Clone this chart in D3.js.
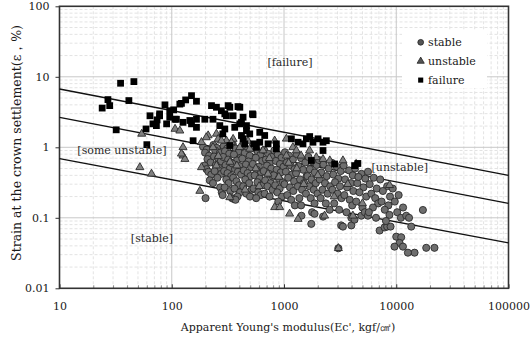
<!DOCTYPE html>
<html>
<head>
<meta charset="utf-8">
<script src="https://cdn.jsdelivr.net/npm/d3@7"></script>
<style>
  html, body { margin: 0; padding: 0; background: #fff; }
  svg { display: block; }
</style>
</head>
<body>
<svg id="chart" width="531" height="339"></svg>
<script>
// Axis ticks
const xTicks = [10, 100, 1000, 10000, 100000];
const xTickLabels = ["10", "100", "1000", "10000", "100000"];
const yTicks = [0.01, 0.1, 1, 10, 100];
const yTickLabels = ["0.01", "0.1", "1", "10", "100"];

const seriesNames = ["stable", "unstable", "failure"];
const xTitle = "Apparent Young's modulus(Ec', kgf/㎠)";
const yTitle = "Strain at the crown settlement(ε，%)";
const zoneLabels = ["[failure]", "[some unstable]", "[unstable]", "[stable]"];

// [apparent Young's modulus Ec' (kgf/cm2), crown settlement strain (%)]
const stable = [
  [190,1.02],[205,0.93],[198,0.84],[215,0.76],[208,0.68],[222,0.61],[196,0.55],[204,0.49],[212,0.45],[225,0.41],[218,0.34],[200,0.19],
  [235,1.08],[252,0.98],[244,0.9],[268,0.83],[238,0.74],[259,0.7],[273,0.63],[247,0.56],[262,0.51],[241,0.46],[276,0.42],[255,0.37],[233,0.31],[270,0.27],[279,0.23],[284,0.21],
  [290,1.04],[312,0.96],[298,0.88],[325,0.81],[287,0.73],[318,0.67],[335,0.61],[302,0.56],[329,0.5],[293,0.46],[314,0.43],[338,0.39],[306,0.35],[321,0.31],[296,0.27],[332,0.24],[344,0.19],[357,0.185],
  [350,1.1],[372,0.96],[395,0.86],[358,0.79],[410,0.71],[381,0.65],[346,0.59],[402,0.54],[366,0.49],[389,0.45],[415,0.41],[353,0.37],[377,0.33],[398,0.29],[362,0.26],[406,0.23],[385,0.2],[370,0.18],
  [430,1.02],[468,0.91],[447,0.83],[495,0.76],[425,0.69],[482,0.63],[458,0.57],[510,0.52],[438,0.47],[474,0.43],[502,0.39],[452,0.35],[489,0.31],[433,0.28],[515,0.25],[462,0.22],[498,0.2],
  [540,0.96],[585,0.86],[615,0.78],[560,0.71],[640,0.64],[528,0.58],[598,0.53],[572,0.48],[625,0.44],[548,0.4],[606,0.36],[580,0.32],[645,0.29],[535,0.26],[590,0.23],[620,0.21],[565,0.19],
  [665,0.91],[720,0.81],[780,0.73],[690,0.67],[750,0.61],[705,0.55],[770,0.5],[660,0.46],[735,0.42],[795,0.38],[680,0.34],[760,0.31],[712,0.28],[790,0.25],[672,0.22],[745,0.2],
  [820,0.9],[880,0.79],[950,0.71],[845,0.64],[920,0.58],[990,0.53],[860,0.48],[935,0.44],[810,0.4],[900,0.36],[975,0.32],[835,0.29],[915,0.26],[870,0.23],[960,0.2],[890,0.17],
  [1020,0.85],[1110,0.76],[1200,0.67],[1060,0.61],[1150,0.55],[1240,0.49],[1040,0.45],[1180,0.41],[1090,0.37],[1230,0.33],[1010,0.3],[1130,0.27],[1210,0.24],[1070,0.21],[1160,0.18],[1250,0.15],
  [1300,0.8],[1420,0.7],[1550,0.61],[1350,0.54],[1480,0.48],[1280,0.43],[1590,0.39],[1390,0.35],[1510,0.31],[1330,0.28],[1450,0.25],[1570,0.22],[1370,0.19],[1420,0.15],[1430,0.107],
  [1650,0.73],[1800,0.63],[1950,0.56],[1700,0.49],[1880,0.44],[1620,0.39],[1760,0.35],[1920,0.31],[1680,0.28],[1840,0.25],[1990,0.22],[1730,0.19],[1870,0.16],[1780,0.12],[1870,0.114],[1750,0.082],
  [2050,0.66],[2250,0.57],[2500,0.5],[2150,0.44],[2400,0.39],[2080,0.35],[2320,0.31],[2580,0.28],[2200,0.25],[2450,0.22],[2120,0.19],[2360,0.16],[2230,0.104],[2550,0.13],
  [2680,0.6],[2950,0.53],[3200,0.46],[2750,0.41],[3050,0.36],[2850,0.32],[3150,0.28],[2700,0.25],[3000,0.22],[3250,0.19],[2800,0.16],[3100,0.13],[3230,0.078],[3050,0.037],
  [3400,0.55],[3800,0.47],[4100,0.4],[3500,0.35],[3950,0.31],[3650,0.27],[4150,0.24],[3450,0.21],[3850,0.18],[4050,0.15],[3600,0.12],[3980,0.1],[3980,0.078],[3350,0.075],
  [4300,0.5],[4900,0.42],[5300,0.36],[4500,0.31],[5100,0.27],[4700,0.23],[5400,0.2],[4400,0.17],[4250,0.094],[4886,0.107],[5000,0.14],[5250,0.12],[4600,0.38],
  [5600,0.45],[6300,0.37],[5800,0.3],[6700,0.26],[6000,0.22],[6500,0.19],[5590,0.107],[6900,0.16],[6200,0.14],[5700,0.12],[6600,0.1],
  [7200,0.35],[8300,0.28],[7600,0.24],[8800,0.2],[7400,0.17],[8500,0.15],[7900,0.13],[8700,0.11],[7110,0.066],[7870,0.073],[8300,0.075],[8900,0.075],[8100,0.09],
  [9300,0.26],[10500,0.21],[9700,0.17],[11500,0.14],[10200,0.12],[11000,0.1],[10000,0.054],[11070,0.053],[10700,0.044],[11470,0.039],[9650,0.039],[12270,0.107],
  [13600,0.075],[17270,0.129],[18500,0.0375],[21900,0.0375],[14560,0.032],[12700,0.032],[13000,0.1]
];

const unstable = [
  [54,1.55],[107,1.82],[118,1.72],[126,0.76],[131,0.68],[52,0.52],[66,0.42],[122,0.81],[178,0.24],[126,1.0],
  [211,1.47],[250,1.55],[184,1.18],[307,1.24],[203,1.38],[233,1.0],[259,1.31],[352,1.31],[418,1.06],[478,1.23],
  [565,1.0],[277,1.24],[340,1.18],[404,1.0],[495,0.95],[650,0.9],[826,1.24],[1050,1.32],[1200,1.0],[1288,0.9],
  [1420,0.76],[1690,0.9],[1940,0.72],[2225,0.68],[2560,0.65],[3350,0.65],[4390,0.58],[1050,0.76],[8710,0.29],
  [184,0.52],[250,0.55],[329,0.195],[826,0.141],[916,0.141],[1122,0.114],[1334,0.096],[2300,0.107],[4110,0.107],
  [260,0.75],[330,0.62],[380,0.55],[560,0.5],[720,0.42],[900,0.38],[1500,0.3],[600,0.28],[450,0.25],[2800,0.2],
  [5000,0.16],[1300,0.5],[3700,0.3],[2000,0.4],[3050,0.037],[740,0.7],[1100,0.6]
];

const failure = [
  [24,3.6],[27,4.75],[28,3.9],[35,8.1],[46,8.55],[41.5,4.6],[32,1.77],[59,1.82],[60,1.09],[87,4.0],
  [68,2.15],[74,2.45],[78,2.8],[90,2.15],[96,2.67],[104,3.4],[107,2.5],[118,4.1],[133,4.7],[150,5.4],
  [166,4.5],[166,2.5],[166,1.92],[155,1.24],[145,2.4],[226,3.9],[250,3.7],[277,3.3],[329,3.7],[404,3.7],
  [307,2.8],[352,2.8],[418,2.26],[463,2.03],[524,2.98],[297,1.82],[418,1.47],[537,1.12],[329,1.06],
  [122,4.2],[318,3.9],[389,3.78],[297,2.98],[432,2.67],[530,2.9],[64,2.8],[78,2.98],[96,3.3],[110,2.5],[126,2.26],
  [73,2.03],[150,2.15],[197,2.5],[233,2.5],[268,2.03],[364,1.92],[404,2.15],[463,1.72],[608,1.63],
  [673,1.47],[608,1.18],[495,1.55],[432,1.32],[285,1.55],[447,1.12],[568,1.0],[721,1.12],[855,1.12],[1164,1.32],
  [1334,1.18],[1582,1.32],[1812,1.18],[2010,1.32],[2225,1.18],[2383,1.24],[1476,1.12],[2225,0.9],[1753,0.65],[2825,0.58],
  [4550,0.59],[4255,0.55],[855,0.95],[1694,1.42]
];

// Boundary lines between the stability zones (end points at both x-limits)
const upperBoundary = [[10, 6.7], [100000, 0.40]];
const middleBoundary = [[10, 2.66], [100000, 0.16]];
const lowerBoundary = [[10, 0.69], [100000, 0.044]];

const svg = d3.select("#chart");
const plotL = 59.5, plotR = 508.5, plotT = 6.3, plotB = 288.3;
const x = d3.scaleLog().domain([10, 100000]).range([plotL, plotR]);
const y = d3.scaleLog().domain([0.01, 100]).range([plotB, plotT]);

const font = "'DejaVu Serif', 'Liberation Serif', serif";
const ink = "#1a1a1a";

// Minor (dashed) grid
const minorX = [], minorY = [];
for (let d = 10; d < 100000; d *= 10) for (let k = 2; k <= 9; k++) minorX.push(d * k);
for (let d = 0.01; d < 100; d *= 10) for (let k = 2; k <= 9; k++) minorY.push(+(d * k).toPrecision(3));

const grid = svg.append("g");
grid.selectAll(".mx").data(minorX).join("line")
  .attr("x1", d => x(d)).attr("x2", d => x(d)).attr("y1", plotT).attr("y2", plotB)
  .attr("stroke", "#e3e3e3").attr("stroke-width", 1).attr("stroke-dasharray", "3,2");
grid.selectAll(".my").data(minorY).join("line")
  .attr("y1", d => y(d)).attr("y2", d => y(d)).attr("x1", plotL).attr("x2", plotR)
  .attr("stroke", "#e3e3e3").attr("stroke-width", 1).attr("stroke-dasharray", "3,2");

// Major grid
grid.selectAll(".gx").data(xTicks.slice(1, -1)).join("line")
  .attr("x1", d => x(d)).attr("x2", d => x(d)).attr("y1", plotT).attr("y2", plotB)
  .attr("stroke", "#c8c8c8").attr("stroke-width", 1);
grid.selectAll(".gy").data(yTicks.slice(1, -1)).join("line")
  .attr("y1", d => y(d)).attr("y2", d => y(d)).attr("x1", plotL).attr("x2", plotR)
  .attr("stroke", "#c8c8c8").attr("stroke-width", 1);

// Legend background
svg.append("rect").attr("x", 402).attr("y", 30).attr("width", 85).attr("height", 58).attr("fill", "#fff");

// Axes
svg.append("g").attr("transform", `translate(0,${plotB})`)
  .call(d3.axisBottom(x).tickValues(minorX).tickSize(-3).tickFormat(""))
  .call(g => g.select(".domain").remove())
  .call(g => g.selectAll(".tick line").attr("stroke", "#888"));
svg.append("g").attr("transform", `translate(0,${plotB})`)
  .call(d3.axisBottom(x).tickValues(xTicks).tickSize(-4).tickPadding(14).tickFormat((d, i) => xTickLabels[i]))
  .call(g => g.select(".domain").remove())
  .call(g => g.selectAll(".tick line").attr("stroke", "#333"))
  .call(g => g.selectAll("text").attr("font-family", font).attr("font-size", 11).attr("fill", ink));
svg.append("g").attr("transform", `translate(${plotL},0)`)
  .call(d3.axisLeft(y).tickValues(yTicks).tickSize(4).tickPadding(6).tickFormat((d, i) => yTickLabels[i]))
  .call(g => g.select(".domain").remove())
  .call(g => g.selectAll(".tick line").attr("stroke", "#333"))
  .call(g => g.selectAll("text").attr("font-family", font).attr("font-size", 11).attr("fill", ink));

// Frame
svg.append("rect").attr("x", plotL).attr("y", plotT).attr("width", plotR - plotL).attr("height", plotB - plotT)
  .attr("fill", "none").attr("stroke", "#333").attr("stroke-width", 1.6);

// Boundary lines
const line = d3.line().x(d => x(d[0])).y(d => y(d[1]));
const plot = svg.append("g");
[upperBoundary, middleBoundary, lowerBoundary].forEach(b => {
  plot.append("path").attr("d", line(b)).attr("fill", "none").attr("stroke", "#111").attr("stroke-width", 1.4);
});

// Markers
const circleSym = d3.symbol().type(d3.symbolCircle).size(40);
const triSym = d3.symbol().type(d3.symbolTriangle).size(28);
const sqSym = d3.symbol().type(d3.symbolSquare).size(46);

plot.append("g").selectAll("path").data(stable).join("path")
  .attr("d", circleSym).attr("transform", d => `translate(${x(d[0])},${y(d[1])})`)
  .attr("fill", "#6e6e6e").attr("stroke", "#2a2a2a").attr("stroke-width", 0.9);
plot.append("g").selectAll("path").data(unstable).join("path")
  .attr("d", triSym).attr("transform", d => `translate(${x(d[0])},${y(d[1])})`)
  .attr("fill", "#808080").attr("stroke", "#2a2a2a").attr("stroke-width", 0.9);
plot.append("g").selectAll("path").data(failure).join("path")
  .attr("d", sqSym).attr("transform", d => `translate(${x(d[0])},${y(d[1])})`)
  .attr("fill", "#000");

// Zone labels
const zoneAnchors = [[1130, 16], [36, 0.92], [10740, 0.53], [66.7, 0.052]];
zoneLabels.forEach((t, i) => {
  svg.append("text").attr("x", x(zoneAnchors[i][0])).attr("y", y(zoneAnchors[i][1]))
    .attr("dy", "0.35em").attr("text-anchor", "middle")
    .attr("font-family", font).attr("font-size", 11).attr("fill", "#2a2a2a").text(t);
});

// Legend
const legendSyms = [
  d3.symbol().type(d3.symbolCircle).size(26),
  d3.symbol().type(d3.symbolTriangle).size(22),
  d3.symbol().type(d3.symbolSquare).size(26)
];
const legendFill = ["#555", "#555", "#000"];
seriesNames.forEach((name, i) => {
  const ly = 42.3 + i * 18.9;
  svg.append("path").attr("d", legendSyms[i]).attr("transform", `translate(420.7,${ly})`)
    .attr("fill", legendFill[i]).attr("stroke", i < 2 ? "#222" : "none").attr("stroke-width", 0.8);
  svg.append("text").attr("x", 428).attr("y", ly).attr("dy", "0.35em")
    .attr("font-family", font).attr("font-size", 11).attr("fill", ink).text(name);
});

// Axis titles
svg.append("text").attr("x", 288).attr("y", 331).attr("text-anchor", "middle")
  .attr("font-family", font).attr("font-size", 11).attr("fill", ink).text(xTitle);
svg.append("text").attr("transform", "translate(21,143) rotate(-90)").attr("text-anchor", "middle")
  .attr("font-family", font).attr("font-size", 12.5).attr("fill", ink).text(yTitle);
</script>
</body>
</html>
